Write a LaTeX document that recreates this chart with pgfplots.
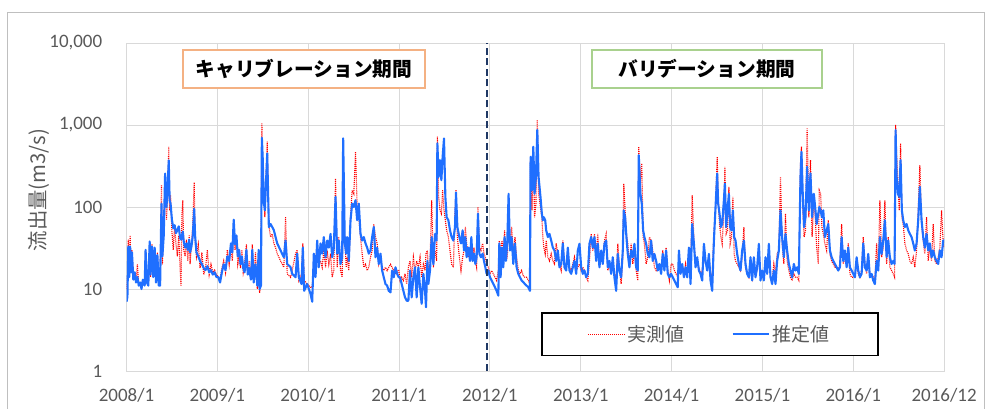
\documentclass[border=0pt]{standalone}
\usepackage{fontspec}
\setmainfont{Carlito}
\newfontfamily\jp{Noto Sans CJK JP}
\usepackage{pgfplots}
\usepackage{pgfplotstable}
\pgfplotsset{compat=1.18}

\definecolor{obsred}{RGB}{255,0,0}
\definecolor{estblue}{RGB}{31,111,255}
\definecolor{gridgray}{RGB}{217,217,217}
\definecolor{txtgray}{RGB}{89,89,89}
\definecolor{navyline}{RGB}{31,56,100}
\definecolor{calib}{RGB}{244,177,131}
\definecolor{valid}{RGB}{169,209,142}
\definecolor{framegray}{RGB}{191,191,191}

% 日流量: x = 年(小数), obs = 実測値, est = 推定値 (m3/s)
\pgfplotstableread{
x obs est
2008.000 10 7
2008.010 12 8
2008.020 40 33
2008.030 15 14
2008.040 45 33
2008.050 17 16
2008.060 30 28
2008.075 13 13
2008.090 16 16
2008.105 12 12
2008.120 20 14
2008.135 11 11
2008.150 12 12
2008.165 11 10
2008.180 13 13
2008.200 11 11
2008.210 30 30
2008.225 13 12
2008.240 12 11
2008.255 36 38
2008.265 14 15
2008.280 35 33
2008.295 16 14
2008.310 30 32
2008.325 13 12
2008.340 28 26
2008.355 12 11
2008.370 12 11
2008.385 184 110
2008.395 20 25
2008.410 60 45
2008.425 190 256
2008.440 70 100
2008.455 150 200
2008.465 540 370
2008.475 90 120
2008.485 140 110
2008.500 50 70
2008.515 30 55
2008.530 60 60
2008.545 35 48
2008.560 25 52
2008.575 45 58
2008.590 18 42
2008.600 11 40
2008.610 80 45
2008.620 120 50
2008.630 30 38
2008.645 25 32
2008.660 40 36
2008.675 22 30
2008.690 45 40
2008.700 20 28
2008.715 35 33
2008.730 60 45
2008.745 200 95
2008.755 40 45
2008.770 25 28
2008.790 35 25
2008.810 18 22
2008.830 28 20
2008.850 15 18
2008.870 18 17
2008.890 30 19
2008.910 15 16
2008.930 20 17
2008.950 16 15
2008.970 17 16
2008.990 15 14
2009.010 14 14
2009.030 13 12
2009.050 18 16
2009.070 22 20
2009.090 16 17
2009.110 30 25
2009.130 20 22
2009.150 35 36
2009.165 22 28
2009.180 60 70
2009.195 30 35
2009.210 45 45
2009.225 20 25
2009.240 25 30
2009.255 18 20
2009.270 30 25
2009.285 16 18
2009.300 20 16
2009.320 35 30
2009.335 15 15
2009.350 22 18
2009.370 14 13
2009.385 35 30
2009.400 12 12
2009.420 28 20
2009.440 10 11
2009.455 25 30
2009.465 9 10
2009.480 12 11
2009.490 1050 700
2009.500 300 380
2009.510 150 120
2009.523 75 91
2009.549 625 450
2009.567 60 57
2009.586 43 62
2009.604 47 57
2009.622 36 52
2009.641 32 43
2009.659 27 36
2009.696 22 29.5
2009.732 18.4 24.4
2009.751 75 39
2009.769 15.3 20.2
2009.806 13.9 18.4
2009.824 16.8 15.3
2009.861 27 13.9
2009.879 30 27
2009.897 12.7 13.9
2009.927 15.3 11.5
2009.941 36 32
2009.956 12.7 9.5
2009.989 11.5 11.5
2010.026 10.5 8.7
2010.044 10.5 7.0
2010.062 20 27
2010.081 24 14
2010.099 29.5 39
2010.117 20 18.4
2010.136 22 36
2010.154 18.4 27
2010.172 29.5 43
2010.191 18.4 24.4
2010.209 29.5 39
2010.227 20 32
2010.246 27 47
2010.264 13.9 24.4
2010.282 16.8 32
2010.301 222 133
2010.319 18.4 27
2010.337 43 39
2010.356 16.8 20.2
2010.374 13.9 24.4
2010.385 91 687
2010.403 43 36
2010.418 18.4 27
2010.429 24.4 43
2010.447 16.8 22
2010.466 75 69
2010.484 160 110
2010.502 145 100
2010.521 471 121
2010.539 100 69
2010.557 75 110
2010.576 43 47
2010.594 27 39
2010.612 18.4 43
2010.631 20 36
2010.649 16.8 32
2010.667 18.4 27
2010.686 24.4 29.5
2010.704 29.5 43
2010.722 62 57
2010.741 43 24.4
2010.759 36 32
2010.777 20.2 20.2
2010.796 24.4 27
2010.814 18.4 16.8
2010.832 16.8 13.9
2010.851 18.4 11.5
2010.869 16.8 11
2010.887 18.4 9.5
2010.906 20 9.1
2010.924 18.4 16.8
2010.942 16.8 13.9
2010.961 15.3 18.4
2010.979 16.8 15.3
2010.997 16.8 13.9
2011.011 12.7 13.9
2011.029 13.9 11.5
2011.048 12.7 9.5
2011.066 15.3 7.9
2011.084 11.5 7.2
2011.103 18.4 7.2
2011.121 22 16.8
2011.139 13.9 7.9
2011.158 24.4 13.9
2011.176 16.8 18.4
2011.194 22 7.9
2011.213 18.4 18.4
2011.231 24.4 10.5
2011.249 13.9 6.6
2011.268 20 15.3
2011.286 16.8 9.5
2011.297 27 6.0
2011.312 29.5 22
2011.323 16.8 11.5
2011.341 20 16.8
2011.359 121 43
2011.378 18.4 20
2011.396 29.5 47
2011.414 22 39
2011.422 720 597
2011.436 133 233
2011.451 91 373
2011.466 83 212
2011.480 160 410
2011.495 91 687
2011.510 69 133
2011.524 52 75
2011.543 43 69
2011.561 29.5 52
2011.579 20 43
2011.598 18.4 39
2011.616 83 57
2011.627 160 150
2011.642 43 57
2011.664 24.4 43
2011.682 16.8 36
2011.700 24.4 52
2011.715 29.5 29.5
2011.730 57 43
2011.744 36 24.4
2011.763 24.4 32
2011.781 27 22
2011.796 36 43
2011.810 24.4 22
2011.825 32 27
2011.840 22 20.2
2011.854 18.4 24.4
2011.869 100 83
2011.884 32 27
2011.902 29.5 24.4
2011.920 36 27
2011.935 27 22
2011.950 24.4 18.4
2011.964 20 15.3
2011.983 18.4 16.8
2012.001 15.3 13.9
2012.019 16.8 12.7
2012.038 15.3 11.5
2012.056 13.9 10.5
2012.074 12.7 9.5
2012.093 16.8 8.3
2012.104 39 36
2012.118 24.4 13.9
2012.133 39 32
2012.148 29.5 18.4
2012.162 52 43
2012.177 22 22
2012.192 24.4 39
2012.206 100 145
2012.221 29.5 29.5
2012.239 57 43
2012.258 26.8 20.2
2012.276 43 36
2012.294 24.4 18.4
2012.313 16.8 15.3
2012.331 15.3 13.9
2012.349 16.8 12.7
2012.368 14.5 12.1
2012.386 13.9 11.5
2012.404 13.9 11
2012.423 12.7 10.5
2012.441 11.5 9.5
2012.448 410 410
2012.463 91 160
2012.478 450 543
2012.492 75 145
2012.507 110 233
2012.522 1151 869
2012.536 145 233
2012.557 100 133
2012.572 75 83
2012.583 43 69
2012.594 32 75
2012.609 26.8 69
2012.620 39 52
2012.638 24.4 43
2012.656 22 47
2012.675 26.8 39
2012.693 22 32
2012.711 20.2 29.5
2012.730 36 22
2012.748 26.8 29.5
2012.766 20.2 18.4
2012.785 16.8 20.2
2012.803 39 36
2012.821 20.2 18.4
2012.840 18.4 16.8
2012.858 29.5 32
2012.876 18.4 16.8
2012.895 16.8 15.3
2012.913 20.2 18.4
2012.931 24.4 22
2012.950 16.8 15.3
2012.968 18.4 29.5
2012.986 20.2 35.6
2013.005 16.8 18.4
2013.023 18.4 15.3
2013.041 16.8 16.8
2013.060 13.9 13.9
2013.078 12.7 15.3
2013.096 22 35.6
2013.115 47 43
2013.133 29.5 32
2013.151 47 43
2013.170 26.8 22
2013.188 47 35.6
2013.206 20.2 18.4
2013.225 26.8 29.5
2013.243 22 20.2
2013.261 39 35.6
2013.280 47 39
2013.298 16.8 18.4
2013.316 20.2 22
2013.335 16.8 15.3
2013.353 18.4 24.4
2013.371 15.3 13.9
2013.390 13.9 9.5
2013.408 35.6 26.8
2013.426 18.4 16.8
2013.445 11.5 13.9
2013.463 24.4 29.5
2013.474 193 91
2013.489 91 75
2013.503 47 43
2013.518 35.6 26.8
2013.536 18.4 18.4
2013.555 35.6 29.5
2013.573 20.2 24.4
2013.591 29.5 35.6
2013.610 16.8 18.4
2013.628 12.7 16.8
2013.639 543 429
2013.657 193 145
2013.672 340 110
2013.687 43 51.8
2013.701 35.6 43
2013.720 20.2 35.6
2013.738 24.4 26.8
2013.756 43 24.4
2013.775 39 39
2013.793 29.5 22
2013.811 18.4 26.8
2013.830 16.8 22
2013.848 18.4 16.8
2013.866 18.4 20.2
2013.885 16.8 15.3
2013.903 29.5 26.8
2013.921 18.4 16.8
2013.940 32 29.5
2013.958 16.8 15.3
2013.976 12.7 13.9
2013.995 20.2 15.3
2014.013 20.2 13.9
2014.031 16.8 12.7
2014.050 15.3 11.5
2014.068 13.9 10.5
2014.081 24.4 29.5
2014.099 16.8 15.3
2014.117 18.4 20.2
2014.136 15.3 13.9
2014.154 20.2 18.4
2014.172 13.9 13.9
2014.191 32 32
2014.209 13.9 11.5
2014.227 139 62
2014.246 39 35.6
2014.264 20.2 18.4
2014.282 20.2 24.4
2014.301 18.4 16.8
2014.319 15.3 15.3
2014.337 16.8 12.7
2014.356 26.8 35.6
2014.374 20.2 22
2014.392 20.2 16.8
2014.411 24.4 26.8
2014.429 15.3 12.7
2014.447 13.9 9.5
2014.466 47 39
2014.484 91 100
2014.502 410 256
2014.513 133 110
2014.528 62 83
2014.543 43 57
2014.557 35.6 62
2014.576 91 121
2014.587 309 193
2014.601 47 57
2014.616 51.8 91
2014.631 176 145
2014.645 35.6 57
2014.660 43 51.8
2014.675 133 91
2014.689 26.8 43
2014.704 22 39
2014.722 20.2 26.8
2014.741 18.4 20.2
2014.759 16.8 16.8
2014.777 24.4 29.5
2014.796 57 39
2014.814 18.4 20.2
2014.832 15.3 15.3
2014.851 13.9 13.9
2014.869 20.2 24.4
2014.887 13.9 12.7
2014.906 22 24.4
2014.924 15.3 13.9
2014.942 16.8 18.4
2014.961 29.5 35.6
2014.979 13.9 12.7
2014.997 15.3 16.8
2015.016 13.9 12.7
2015.034 22 24.4
2015.052 16.8 15.3
2015.071 29.5 35.6
2015.089 13.9 13.9
2015.107 12.7 11.5
2015.126 20.2 16.8
2015.144 15.3 11.5
2015.162 26.8 22
2015.181 29.5 29.5
2015.199 233 91
2015.217 35.6 43
2015.236 20.2 24.4
2015.254 83 47
2015.272 22 29.5
2015.291 16.8 20.2
2015.309 13.9 16.8
2015.327 12.7 13.9
2015.346 15.3 20.2
2015.364 13.9 16.8
2015.382 13.9 18.4
2015.401 12.7 15.3
2015.419 340 233
2015.430 543 471
2015.445 91 133
2015.459 43 57
2015.474 51.8 75
2015.492 910 309
2015.511 75 91
2015.529 373 256
2015.547 43 75
2015.566 121 145
2015.584 68 91
2015.597 32 62
2015.615 20.2 83
2015.626 160 100
2015.641 145 91
2015.655 57 75
2015.670 47 91
2015.688 35.6 43
2015.707 29.5 51.8
2015.725 69 62
2015.743 26.8 29.5
2015.762 22 24.4
2015.780 20.2 22
2015.798 18.4 20.2
2015.817 18.4 18.4
2015.835 16.8 16.8
2015.853 20.2 18.4
2015.872 62 43
2015.890 20.2 22
2015.908 24.4 29.5
2015.927 20.2 18.4
2015.945 36 32
2015.963 15.3 18.4
2015.982 13.9 16.8
2016.000 13.9 15.3
2016.018 13.9 13.9
2016.037 22 24.4
2016.055 15.3 16.8
2016.073 13.9 13.9
2016.092 16.8 15.3
2016.110 43 36
2016.128 20.2 18.4
2016.147 15.3 16.8
2016.165 26.8 26.8
2016.183 13.9 13.9
2016.202 15.3 15.3
2016.220 13.9 12.7
2016.238 12.7 11.5
2016.257 36 22
2016.275 16.8 16.8
2016.293 121 43
2016.312 24.4 26.8
2016.330 32 39
2016.348 121 69
2016.367 20.2 24.4
2016.385 43 39
2016.403 18.4 24.4
2016.422 16.8 20.2
2016.440 15.3 22
2016.455 13.9 20.2
2016.466 1000 869
2016.477 450 233
2016.491 212 145
2016.506 91 133
2016.521 597 373
2016.535 75 91
2016.550 62 69
2016.568 36 57
2016.587 29.5 62
2016.605 26.8 52
2016.623 22 47
2016.642 20.2 43
2016.660 24.4 36
2016.678 18.4 29.5
2016.697 29.5 36
2016.715 91 69
2016.733 324 176
2016.752 62 69
2016.770 39 43
2016.788 26.8 32
2016.807 75 47
2016.825 22 29.5
2016.843 32 36
2016.862 22 24.4
2016.880 62 29.5
2016.898 22 24.4
2016.917 20.2 22
2016.935 24.4 20.2
2016.953 32 29.5
2016.972 91 24.4
2016.990 36 39
2017.000 32 39
}\flow

\begin{document}
\begin{tikzpicture}[x=0.25mm, y=0.25mm]
\useasboundingbox (0,0) rectangle (992,408);
% 外枠
\draw[framegray, line width=0.6pt] (7,-10) -- (7,396) -- (984,396) -- (984,-10);
\coordinate (axorigin) at (126.5,37);

\begin{axis}[
    at={(axorigin)}, anchor=south west,
    scale only axis, width=204.4mm, height=82mm,
    ymode=log, ymin=1, ymax=10000,
    xmin=2008, xmax=2017,
    xtick={2008,2009,2010,2011,2012,2013,2014,2015,2016,2017},
    xticklabels={2008/1,2009/1,2010/1,2011/1,2012/1,2013/1,2014/1,2015/1,2016/1,2016/12},
    ytick={1,10,100,1000,10000},
    yticklabels={1,10,100,{1,000},{10,000}},
    yminorticks=false,
    major tick length=0pt,
    grid=major,
    grid style={gridgray, line width=0.7pt},
    axis line style={gridgray, line width=0.7pt},
    tick label style={text=txtgray, font=\fontsize{13.5}{15}\selectfont, inner sep=0pt},
    xticklabel shift=4.2mm, yticklabel shift=6mm,
    /pgf/number format/assume math mode=true,
    legend columns=2,
    legend style={at={(axis description cs:0.507,0.18)}, anchor=north west,
        draw=black, line width=1.1pt, inner xsep=11.5mm, inner ysep=2.4mm,
        font=\jp\fontsize{13.5}{15}\selectfont, text=txtgray,
        /tikz/every even column/.append style={column sep=11mm}},
    legend image code/.code={\draw[#1] (0mm,0mm) -- (9mm,0mm);},
]
\addplot[obsred, line width=0.8pt, dash pattern=on 0.7pt off 0.7pt] table[x=x, y=obs] {\flow};
\addlegendentry{実測値}
\addplot[estblue, line width=1.5pt, line join=round] table[x=x, y=est] {\flow};
\addlegendentry{推定値}
\draw[navyline, line width=1.7pt, dash pattern=on 5pt off 2.5pt] (axis cs:2011.97,1) -- (axis cs:2011.97,10000);
\end{axis}

\node[rotate=90, text=txtgray, font=\jp\fontsize{14.5}{16}\selectfont] at (39,218) {流出量(m3/s)};
\node[draw=calib, line width=0.8pt, fill=white, minimum width=60.5mm, minimum height=9.5mm,
      font=\jp\bfseries\fontsize{14}{16}\selectfont] at (304,339) {キャリブレーション期間};
\node[draw=valid, line width=0.8pt, fill=white, minimum width=57.5mm, minimum height=9.5mm,
      font=\jp\bfseries\fontsize{14}{16}\selectfont] at (707,339) {バリデーション期間};
\end{tikzpicture}
\end{document}
